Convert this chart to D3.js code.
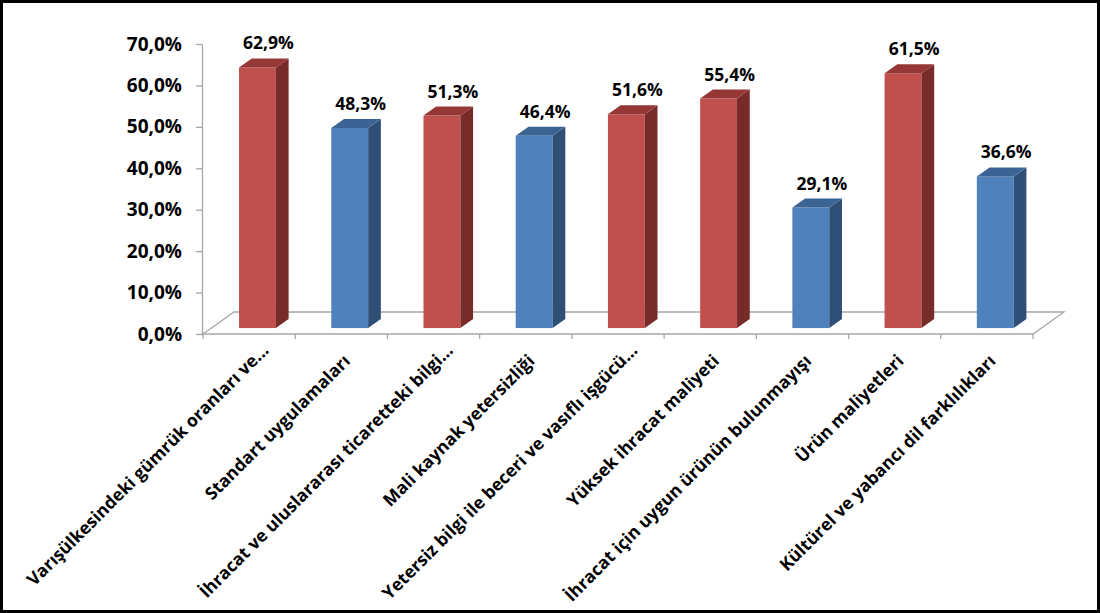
<!DOCTYPE html>
<html>
<head>
<meta charset="utf-8">
<script src="https://cdn.jsdelivr.net/npm/d3@7/dist/d3.min.js"></script>
<style>
  html, body { margin: 0; padding: 0; background: #fff; }
  svg { display: block; }
  text { font-family: "Open Sans", "DejaVu Sans", sans-serif; font-weight: bold; fill: #000; }
</style>
</head>
<body>
<svg id="chart" width="1100" height="613"></svg>
<script>
// ---- data ----
const categories = [
  "Varışülkesindeki gümrük oranları ve...",
  "Standart uygulamaları",
  "İhracat ve uluslararası ticaretteki bilgi...",
  "Mali kaynak yetersizliği",
  "Yetersiz bilgi ile beceri ve vasıflı işgücü...",
  "Yüksek ihracat maliyeti",
  "İhracat için uygun ürünün bulunmayışı",
  "Ürün maliyetleri",
  "Kültürel ve yabancı dil farklılıkları"
];
const values = [62.9, 48.3, 51.3, 46.4, 51.6, 55.4, 29.1, 61.5, 36.6];
const seriesGroup = ["red", "blue", "red", "blue", "red", "red", "blue", "red", "blue"];
const yTickValues = [0, 10, 20, 30, 40, 50, 60, 70];

// ---- styles / layout ----
const palette = {
  red:  { front: "#C0504D", top: "#953735", side: "#772C2A" },
  blue: { front: "#4F81BD", top: "#3B6494", side: "#2F4F77" }
};
const W = 1100, H = 613;
const plot = { left: 203, right: 1033, bottom: 334, top: 44 };
const depth = { dx: 31, dy: -22 };        // floor depth vector
const barFront = 0.27, barBack = 0.68;     // bar position within floor depth
const fmt = v => v.toFixed(1).replace(".", ",") + "%";

const svg = d3.select("#chart");
svg.append("rect").attr("x", 0).attr("y", 0).attr("width", W).attr("height", H).attr("fill", "#fff");

const x = d3.scaleBand().domain(categories).range([plot.left, plot.right]).paddingInner(0).paddingOuter(0);
const y = d3.scaleLinear().domain([0, 70]).range([plot.bottom, plot.top]);

const axisColor = "#A6A6A6";

// floor
const floorPts = [
  [plot.left, plot.bottom],
  [plot.right, plot.bottom],
  [plot.right + depth.dx, plot.bottom + depth.dy],
  [plot.left + depth.dx, plot.bottom + depth.dy]
];
svg.append("polygon")
  .attr("points", floorPts.map(p => p.join(",")).join(" "))
  .attr("fill", "none").attr("stroke", axisColor).attr("stroke-width", 1.3);

// y axis
const yAxis = d3.axisLeft(y).tickValues(yTickValues).tickSize(6).tickSizeOuter(0).tickPadding(14)
  .tickFormat(d => fmt(d));
const gy = svg.append("g").attr("transform", `translate(${plot.left - 1},0)`).call(yAxis);
gy.select(".domain").attr("stroke", axisColor).attr("stroke-width", 1.3);
gy.selectAll(".tick line").attr("stroke", axisColor).attr("stroke-width", 1.3);
gy.selectAll(".tick text").style("font-size", "19px").attr("fill", "#000")
  .style("font-family", "'Open Sans', sans-serif").style("font-weight", "bold");

// x ticks at band edges
const edges = categories.map(c => x(c)).concat([plot.right]);
svg.append("g").selectAll("line").data(edges).join("line")
  .attr("x1", d => d).attr("x2", d => d)
  .attr("y1", plot.bottom).attr("y2", plot.bottom + 5)
  .attr("stroke", axisColor).attr("stroke-width", 1.3);

// bars
const bw = x.bandwidth() * 0.4;
const fdx = depth.dx * barFront, fdy = depth.dy * barFront;
const bdx = depth.dx * (barBack - barFront), bdy = depth.dy * (barBack - barFront);

const bars = svg.append("g").selectAll("g").data(categories).join("g");
bars.each(function (c, i) {
  const g = d3.select(this);
  const col = palette[seriesGroup[i]];
  const cx = x(c) + x.bandwidth() / 2 + fdx;
  const x0 = cx - bw / 2, x1 = cx + bw / 2;
  const yb = y(0) + fdy, yt = y(values[i]) + fdy;
  // front
  g.append("rect").attr("x", x0).attr("y", yt).attr("width", bw).attr("height", yb - yt)
    .attr("fill", col.front);
  // side
  g.append("polygon").attr("points", [
    [x1, yt], [x1 + bdx, yt + bdy], [x1 + bdx, yb + bdy], [x1, yb]
  ].map(p => p.join(",")).join(" ")).attr("fill", col.side);
  // top
  g.append("polygon").attr("points", [
    [x0, yt], [x1, yt], [x1 + bdx, yt + bdy], [x0 + bdx, yt + bdy]
  ].map(p => p.join(",")).join(" ")).attr("fill", col.top);
  // value label
  g.append("text").attr("x", cx + 11).attr("y", yt - 18)
    .attr("text-anchor", "middle").style("font-size", "17.5px").text(fmt(values[i]));
});

// category labels, rotated -45
const lab = svg.append("g");
categories.forEach((c, i) => {
  const ex = x(c) + x.bandwidth() / 2 + 10, ey = 362;
  const truncated = c.endsWith("...");
  const main = truncated ? c.slice(0, -3) : c;
  const g = lab.append("g").attr("transform", `translate(${ex},${ey}) rotate(-45)`);
  g.append("text").attr("text-anchor", "end").style("font-size", "17.5px").text(main);
  if (truncated) {
    g.append("text").attr("text-anchor", "start").style("font-size", "17.5px").text("...");
  }
});

// outer border
svg.append("rect").attr("x", 1.5).attr("y", 1.5).attr("width", W - 3).attr("height", H - 3)
  .attr("fill", "none").attr("stroke", "#000").attr("stroke-width", 3);
</script>
</body>
</html>
